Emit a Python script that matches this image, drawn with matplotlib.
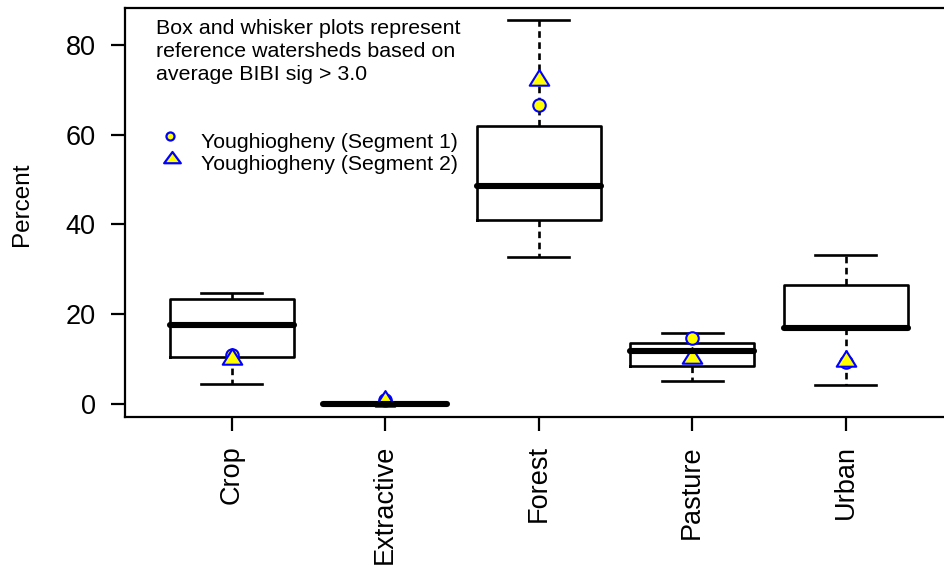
import matplotlib
matplotlib.use("Agg")
import matplotlib.pyplot as plt
from matplotlib.path import Path

plt.rcParams['font.family'] = ['Liberation Sans', 'DejaVu Sans']

categories = ["Crop", "Extractive", "Forest", "Pasture", "Urban"]
whislo = [4.5, 0.0, 32.8, 5.0, 4.1]
q1 = [10.4, 0.0, 41.0, 8.5, 16.8]
med = [17.5, 0.0, 48.5, 11.7, 17.0]
q3 = [23.3, 0.0, 61.9, 13.5, 26.5]
whishi = [24.6, 0.0, 85.7, 15.8, 33.2]
seg1 = [10.8, 0.8, 66.6, 14.7, 9.2]
seg2 = [9.9, 0.5, 72.2, 10.1, 9.5]
yticks = [0, 20, 40, 60, 80]
legend_labels = ["Youghiogheny (Segment 1)", "Youghiogheny (Segment 2)"]
note = "Box and whisker plots represent\nreference watersheds based on\naverage BIBI sig > 3.0"

fig = plt.figure(figsize=(9.45, 5.71), dpi=100)
ax = fig.add_axes([0.1323, 0.2692, 0.8772, 0.7168])

stats = []
for i, c in enumerate(categories):
    stats.append(dict(label=c, whislo=whislo[i], q1=q1[i], med=med[i],
                      q3=q3[i], whishi=whishi[i], fliers=[]))
pos = list(range(1, len(categories) + 1))
ax.bxp(stats, positions=pos, widths=0.81, showfliers=False,
       boxprops=dict(color='black', linewidth=1.9),
       medianprops=dict(color='black', linewidth=4.4, solid_capstyle='round'),
       whiskerprops=dict(color='black', linewidth=1.9, linestyle=(0, (2.5, 1.7))),
       capprops=dict(color='black', linewidth=1.9), capwidths=0.4)


def tri_marker(h):
    # triangle centred on its centroid, width 2, height h
    v = [(-1, -h / 3), (1, -h / 3), (0, 2 * h / 3), (-1, -h / 3)]
    return Path(v, [Path.MOVETO, Path.LINETO, Path.LINETO, Path.CLOSEPOLY])


tri = tri_marker(1.6)
tri_flat = tri_marker(1.35)

ax.plot(pos, seg1, linestyle='none', marker='o', markersize=9,
        markerfacecolor='yellow', markeredgecolor='blue', markeredgewidth=1.5,
        clip_on=False)
ax.plot(pos, seg2, linestyle='none', marker=tri, markersize=15,
        markerfacecolor='yellow', markeredgecolor='blue', markeredgewidth=1.5,
        clip_on=False)

ax.set_xlim(0.305, 5.705)
ax.set_ylim(-3.04, 88.33)
ax.set_yticks(yticks)
ax.set_yticklabels([str(v) for v in yticks], fontsize=19.5)
ax.set_xticks(pos)
ax.set_xticklabels(categories, rotation=90, fontsize=19.5)
ax.tick_params(axis='y', width=1.6, length=10, color='black', pad=11)
ax.tick_params(axis='x', width=1.6, length=10, color='black', pad=10)
ax.set_ylabel("Percent", fontsize=17.5)
ax.yaxis.set_label_coords(-0.111, 0.52)
for s in ax.spines.values():
    s.set_linewidth(1.6)

fig.text(156.5 / 945, 1 - 18.5 / 571, note, fontsize=15.4,
         va='top', ha='left', linespacing=1.28)

# legend
ax.plot([0.6], [59.7], linestyle='none', marker='o', markersize=5.8,
        markerfacecolor='yellow', markeredgecolor='blue', markeredgewidth=1.6)
ax.plot([0.611], [54.7], linestyle='none', marker=tri_flat, markersize=12,
        markerfacecolor='yellow', markeredgecolor='blue', markeredgewidth=1.6)
ax.text(0.798, 57.08, legend_labels[0], fontsize=15.3, va='baseline', ha='left')
ax.text(0.798, 52.17, legend_labels[1], fontsize=15.3, va='baseline', ha='left')

fig.savefig("out.png", dpi=100)
